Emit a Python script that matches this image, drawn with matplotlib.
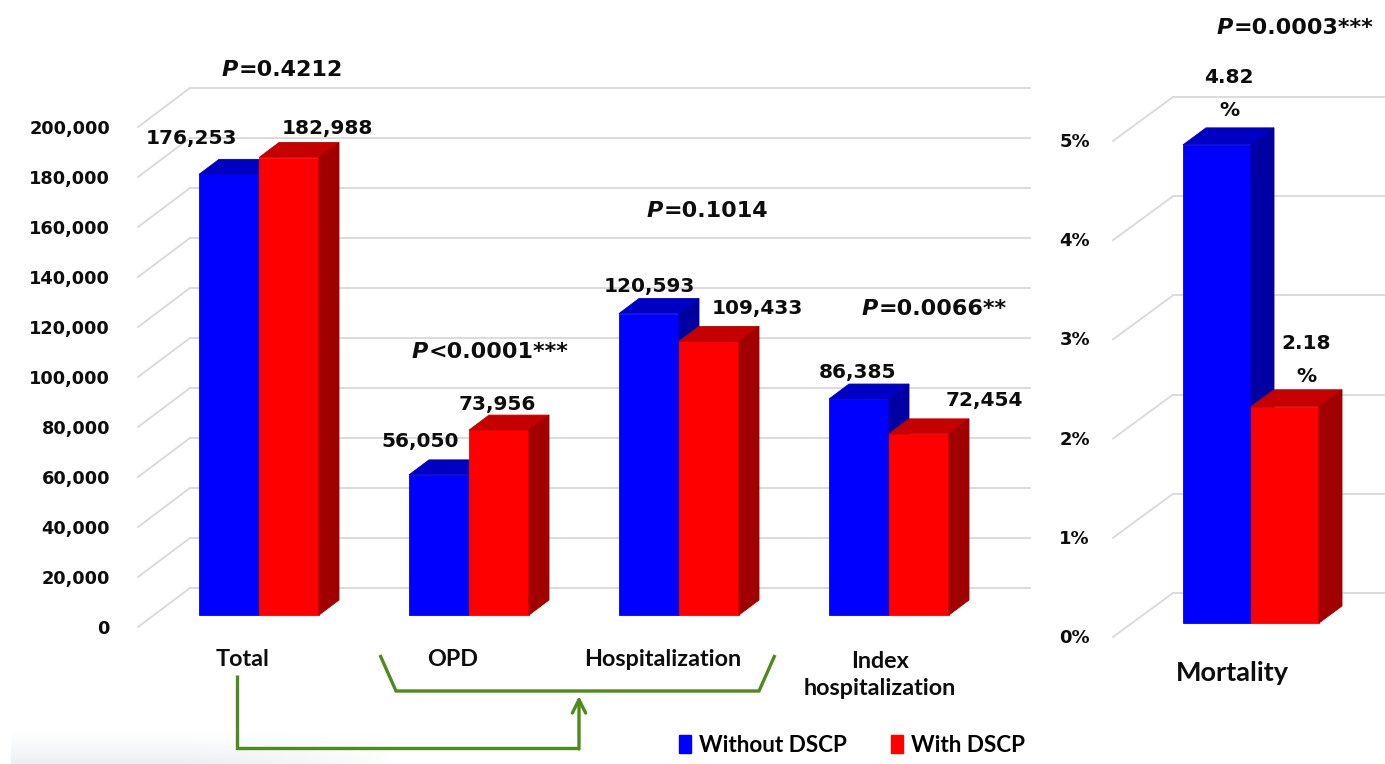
import numpy as np
import matplotlib
matplotlib.use("Agg")
import matplotlib.pyplot as plt
from matplotlib.patches import Polygon, Patch

# ---------------- data ----------------
categories = ["Total", "OPD", "Hospitalization", "Index\nhospitalization"]
without_dscp = [176253, 56050, 120593, 86385]
with_dscp = [182988, 73956, 109433, 72454]
p_texts = ["=0.4212", "<0.0001***", "=0.1014", "=0.0066**"]
left_ticks = [0, 20000, 40000, 60000, 80000, 100000, 120000, 140000, 160000, 180000, 200000]

mort_category = ["Mortality"]
mort_without = [4.82]
mort_with = [2.18]
mort_p_text = "=0.0003***"
right_ticks = [0, 1, 2, 3, 4, 5]

series_names = ["Without DSCP", "With DSCP"]

# ---------------- style ----------------
W, H = 1385, 764
BLUE = ("#0000ff", "#0000c4", "#0000a2")   # front, top, side
RED = ("#ff0000", "#c40000", "#a00000")
GRID = "#d9d9d9"
GREEN = "#4e8a1c"
NUMF = "DejaVu Sans"
LABF = "Lato"
TXT = "#0d0d0d"

fig = plt.figure(figsize=(W / 100, H / 100), dpi=100)
fig.patch.set_facecolor("white")

# overlay axes in pixel coordinates (annotations)
bg = fig.add_axes([0, 0, 1, 1], zorder=0)
bg.set_xlim(0, W)
bg.set_ylim(H, 0)
bg.axis("off")
bg.patch.set_alpha(0)

# faint faded photo at bottom-left
gh, gw = 60, 200
yy = np.linspace(0, 1, gh)[:, None]
xx = np.linspace(0, 1, gw)[None, :]
alpha = np.clip((yy - 0.3) / 0.7, 0, 1) ** 1.3 * np.clip(1.1 - xx ** 3, 0, 1) * 0.75
img = np.zeros((gh, gw, 4))
img[..., 0] = 0.90
img[..., 1] = 0.92
img[..., 2] = 0.94
img[..., 3] = alpha
bg.imshow(img, extent=(11, 390, 764, 715), aspect="auto", zorder=0, interpolation="bilinear")


def px_axes(x0, x1, ybot, ytop):
    ax = fig.add_axes([x0 / W, 1 - ybot / H, (x1 - x0) / W, (ybot - ytop) / H], zorder=2)
    ax.patch.set_alpha(0)
    ax.axis("off")
    return ax


def dshift(ax, dxp, dyp):
    o = ax.transData.transform((0, 0))
    p = ax.transData.inverted().transform((o[0] + dxp, o[1] + dyp))
    return p[0], p[1]


def bar3d(ax, x0, x1, h, colors, depth):
    dx, dy = dshift(ax, *depth)
    front, top, side = colors
    kw = dict(clip_on=False, lw=0.6, joinstyle="miter")
    ax.add_patch(Polygon([(x0, 0), (x1, 0), (x1, h), (x0, h)], fc=front, ec=front, **kw))
    ax.add_patch(Polygon([(x0, h), (x1, h), (x1 + dx, h + dy), (x0 + dx, h + dy)], fc=top, ec=top, **kw))
    ax.add_patch(Polygon([(x1, 0), (x1 + dx, dy), (x1 + dx, h + dy), (x1, h)], fc=side, ec=side, **kw))


def grid3d(ax, ticks, xl, xr, front, back):
    fx, fy = dshift(ax, *front)
    bx, by = dshift(ax, *back)
    for v in ticks:
        ax.plot([xl + fx, xl + bx], [v + fy, v + by], color=GRID, lw=1.3, clip_on=False, zorder=0)
        ax.plot([xl + bx, xr + bx], [v + by, v + by], color=GRID, lw=1.3, clip_on=False, zorder=0)


# ---------------- left panel ----------------
axL = px_axes(154, 994, 615, 115)
axL.set_xlim(-0.5, 3.5)
axL.set_ylim(0, 200000)
bwL = 60 / 210
depthL, frontL, backL = (20, 15), (-16, -12), (36, 27)
grid3d(axL, left_ticks, -0.5, 3.5, frontL, backL)

for v in left_ticks:
    axL.annotate(f"{v:,}", xy=(-0.5, v), xytext=(-44, -14), textcoords="offset pixels",
                 ha="right", va="center", fontsize=12.8, fontweight="bold", family=NUMF,
                 color=TXT, annotation_clip=False)

x = np.arange(len(categories))
for i in x:
    bar3d(axL, i - bwL, i, without_dscp[i], BLUE, depthL)
    bar3d(axL, i, i + bwL, with_dscp[i], RED, depthL)

val_off_blue = [(-38, 36), (-19, 33), (0, 27), (-2, 27)]
val_off_red = [(38, 29), (-2, 26), (48, 33), (65, 33)]
for i in x:
    axL.annotate(f"{without_dscp[i]:,}", xy=(i - bwL / 2, without_dscp[i]), xytext=val_off_blue[i],
                 textcoords="offset pixels", ha="center", va="center", fontsize=14.5,
                 fontweight="bold", family=NUMF, color=TXT, annotation_clip=False)
    axL.annotate(f"{with_dscp[i]:,}", xy=(i + bwL / 2, with_dscp[i]), xytext=val_off_red[i],
                 textcoords="offset pixels", ha="center", va="center", fontsize=14.5,
                 fontweight="bold", family=NUMF, color=TXT, annotation_clip=False)

for i in x:
    lab = categories[i]
    off = (-9, -60) if "\n" in lab else (-16, -44)
    axL.annotate(lab, xy=(i, 0), xytext=off, textcoords="offset pixels", ha="center",
                 va="center", fontsize=16.8, fontweight="bold", family=LABF, color=TXT,
                 linespacing=1.33, annotation_clip=False)

# ---------------- right panel ----------------
unitR = 136.0
axR = px_axes(1132, 1344, 623, 127)
axR.set_xlim(-(1251 - 1132) / unitR, (1344 - 1251) / unitR)
axR.set_ylim(0, 5)
bwR = 68 / unitR
depthR, frontR, backR = (23, 17), (-19, -14), (41, 30)
xlR, xrR = axR.get_xlim()
grid3d(axR, right_ticks, xlR, xrR, frontR, backR)
for v in right_ticks:
    axR.annotate(f"{v}%", xy=(xlR, v), xytext=(-42, -15), textcoords="offset pixels",
                 ha="right", va="center", fontsize=13, fontweight="bold", family=NUMF,
                 color=TXT, annotation_clip=False)

bar3d(axR, -bwR, 0, mort_without[0], BLUE, depthR)
bar3d(axR, 0, bwR, mort_with[0], RED, depthR)
axR.annotate(f"{mort_without[0]:.2f}\n%", xy=(-bwR / 2, mort_without[0]), xytext=(12, 51),
             textcoords="offset pixels", ha="center", va="center", fontsize=14.5,
             fontweight="bold", family=NUMF, color=TXT, linespacing=1.95,
             annotation_clip=False)
axR.annotate(f"{mort_with[0]:.2f}\n%", xy=(bwR / 2, mort_with[0]), xytext=(21, 47),
             textcoords="offset pixels", ha="center", va="center", fontsize=14.5,
             fontweight="bold", family=NUMF, color=TXT, linespacing=1.95,
             annotation_clip=False)
axR.annotate(mort_category[0], xy=(0, 0), xytext=(-19, -50), textcoords="offset pixels",
             ha="center", va="center", fontsize=19.5, fontweight="bold", family=LABF,
             color=TXT, annotation_clip=False)

# ---------------- P-value annotations ----------------
p_pos = [(222, 70), (412, 352), (647, 211), (862, 309)]
for (px, py), t in zip(p_pos + [(1217, 28)], p_texts + [mort_p_text]):
    pt = bg.text(px, py, "P", ha="left", va="center", fontsize=16, fontweight="bold",
                 style="italic", family=NUMF, color=TXT)
    bg.annotate(t, xy=(1, 0), xycoords=pt, ha="left", va="bottom", fontsize=16,
                fontweight="bold", family=NUMF, color=TXT)

# ---------------- green brackets ----------------
bg.plot([237, 237, 579], [675, 748, 748], color=GREEN, lw=2.4, solid_joinstyle="miter",
        solid_capstyle="butt")
bg.annotate("", xy=(579, 696), xytext=(579, 749),
            arrowprops=dict(arrowstyle="->", lw=2.4, color=GREEN, mutation_scale=24,
                            shrinkA=0, shrinkB=0))
bg.plot([380, 396, 759, 775], [655, 691, 691, 655], color=GREEN, lw=2.4,
        solid_joinstyle="miter", solid_capstyle="butt")

# ---------------- legend ----------------
handles = [Patch(fc=BLUE[0], ec=BLUE[0]), Patch(fc=RED[0], ec=RED[0])]
fig.legend(handles, series_names, loc="center", bbox_to_anchor=(852 / W, 1 - 745 / H),
           ncol=2, frameon=False, handlelength=0.5, handleheight=0.85, handletextpad=0.35,
           columnspacing=2.0, prop=dict(family=LABF, weight="bold", size=16.2))

fig.savefig("out.png", dpi=100, facecolor="white")
